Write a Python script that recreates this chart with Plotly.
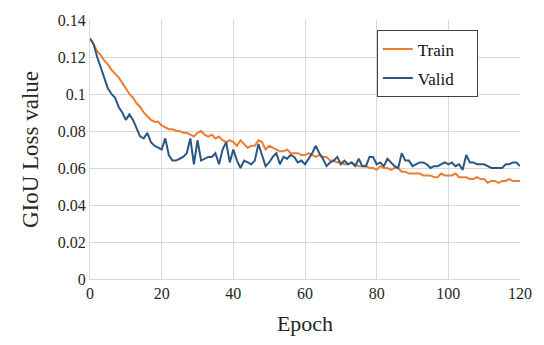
import plotly.graph_objects as go

epochs = list(range(0, 121))
train = [0.130, 0.127, 0.123, 0.121, 0.118, 0.116, 0.113, 0.111, 0.109, 0.106,
         0.103, 0.100, 0.098, 0.095, 0.093, 0.090, 0.088, 0.086, 0.085, 0.085,
         0.083, 0.082, 0.081, 0.081, 0.080, 0.080, 0.079, 0.079, 0.078, 0.077,
         0.079, 0.080, 0.078, 0.077, 0.078, 0.076, 0.077, 0.075, 0.074, 0.075,
         0.074, 0.072, 0.075, 0.073, 0.071, 0.072, 0.072, 0.075, 0.074, 0.070,
         0.072, 0.071, 0.070, 0.069, 0.069, 0.070, 0.068, 0.068, 0.068, 0.067,
         0.067, 0.068, 0.067, 0.066, 0.067, 0.066, 0.066, 0.064, 0.064, 0.063,
         0.063, 0.062, 0.062, 0.063, 0.062, 0.061, 0.061, 0.061, 0.060, 0.060,
         0.059, 0.061, 0.060, 0.060, 0.059, 0.060, 0.060, 0.058, 0.058, 0.057,
         0.057, 0.057, 0.057, 0.056, 0.056, 0.056, 0.055, 0.055, 0.057, 0.056,
         0.056, 0.056, 0.057, 0.055, 0.055, 0.055, 0.054, 0.054, 0.055, 0.054,
         0.054, 0.052, 0.053, 0.053, 0.052, 0.053, 0.053, 0.054, 0.053, 0.053,
         0.053]
valid = [0.130, 0.127, 0.120, 0.114, 0.108, 0.103, 0.100, 0.098, 0.093, 0.090,
         0.086, 0.089, 0.086, 0.081, 0.077, 0.076, 0.079, 0.074, 0.072, 0.071,
         0.070, 0.076, 0.067, 0.064, 0.064, 0.065, 0.066, 0.068, 0.076, 0.062,
         0.075, 0.064, 0.065, 0.066, 0.066, 0.068, 0.062, 0.070, 0.074, 0.063,
         0.070, 0.064, 0.060, 0.064, 0.063, 0.062, 0.064, 0.073, 0.067, 0.061,
         0.063, 0.066, 0.068, 0.062, 0.066, 0.065, 0.067, 0.066, 0.063, 0.064,
         0.062, 0.065, 0.068, 0.072, 0.068, 0.065, 0.061, 0.063, 0.064, 0.066,
         0.062, 0.064, 0.062, 0.063, 0.061, 0.065, 0.061, 0.061, 0.066, 0.066,
         0.062, 0.063, 0.061, 0.065, 0.063, 0.061, 0.060, 0.068, 0.064, 0.064,
         0.061, 0.062, 0.063, 0.063, 0.062, 0.060, 0.061, 0.061, 0.062, 0.063,
         0.062, 0.063, 0.061, 0.062, 0.059, 0.067, 0.063, 0.063, 0.062, 0.062,
         0.062, 0.061, 0.060, 0.060, 0.060, 0.060, 0.062, 0.062, 0.063, 0.063,
         0.061]
y_ticks = [0, 0.02, 0.04, 0.06, 0.08, 0.1, 0.12, 0.14]
y_tick_labels = ["0", "0.02", "0.04", "0.06", "0.08", "0.1", "0.12", "0.14"]
x_ticks = [0, 20, 40, 60, 80, 100, 120]
series_names = ["Train\u00a0\u00a0\u00a0\u00a0", "Valid\u00a0\u00a0\u00a0\u00a0"]

fig = go.Figure()
fig.add_trace(go.Scatter(x=epochs, y=train, mode="lines", name=series_names[0],
                         legendgroup="a",
                         line=dict(color="#ED7D31", width=2)))
fig.add_trace(go.Scatter(x=epochs, y=valid, mode="lines", name=series_names[1],
                         legendgroup="b",
                         line=dict(color="#2A5783", width=2)))

font_family = "Liberation Serif, Times New Roman, serif"
fig.update_layout(
    width=544, height=345,
    margin=dict(l=90, r=23, t=17, b=66),
    paper_bgcolor="white", plot_bgcolor="white",
    font=dict(family=font_family, size=16, color="#262626"),
    showlegend=True,
    legend=dict(x=0.667, y=0.96, xanchor="left", yanchor="top",
                bordercolor="#404040", borderwidth=1, bgcolor="white",
                font=dict(family=font_family, size=17, color="#111111"),
                itemwidth=30, tracegroupgap=4),
    xaxis=dict(range=[0, 120], tickvals=x_ticks, showgrid=True,
               gridcolor="#D9D9D9", gridwidth=1, zeroline=False,
               showline=True, linecolor="#D9D9D9", linewidth=1,
               ticks="", ticklen=0,
               title=dict(text="Epoch", font=dict(size=22, family=font_family), standoff=14),
               tickfont=dict(size=16, family=font_family)),
    yaxis=dict(range=[0, 0.14], tickvals=y_ticks, ticktext=y_tick_labels,
               showgrid=True, gridcolor="#D9D9D9", gridwidth=1, zeroline=False,
               showline=True, linecolor="#D9D9D9", linewidth=1,
               ticks="", ticklen=0,
               title=dict(text="GIoU Loss value", font=dict(size=23, family=font_family), standoff=12),
               tickfont=dict(size=16, family=font_family)),
)
fig.write_html("out.html", config={"displayModeBar": False},
               post_script="document.body.style.margin='0';")
